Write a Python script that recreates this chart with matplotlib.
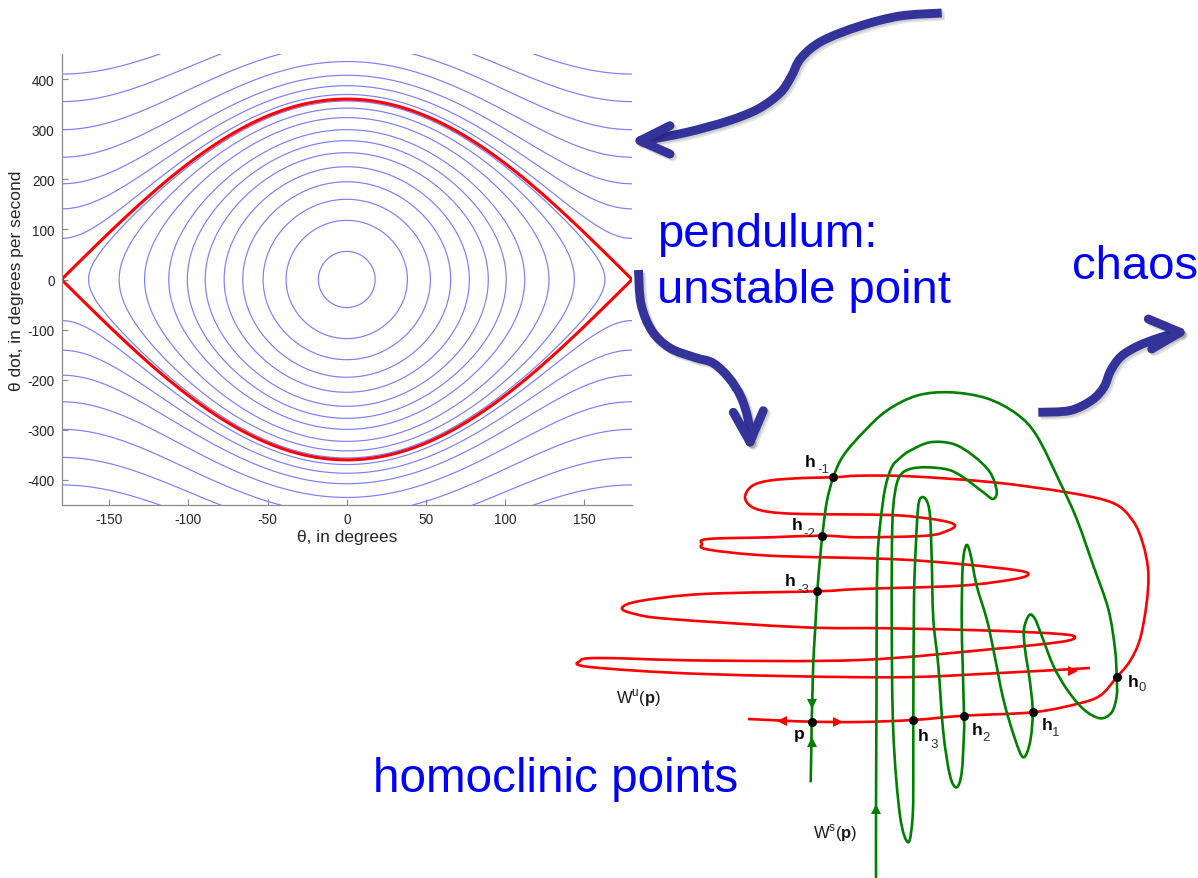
"""pendulum phase portrait + homoclinic tangle sketch, one slide-style canvas."""
import numpy as np
import matplotlib
matplotlib.use("Agg")
import matplotlib.pyplot as plt
import matplotlib.patheffects as pe
from matplotlib.path import Path
from matplotlib.patches import PathPatch

plt.rcParams["font.family"] = ["Liberation Sans", "DejaVu Sans"]
plt.rcParams["axes.unicode_minus"] = False
plt.rcParams["mathtext.fontset"] = "custom"
plt.rcParams["mathtext.rm"] = "Liberation Sans"
plt.rcParams["mathtext.bf"] = "Liberation Sans:bold"

W, H = 1198, 879

# ---- pendulum: speed (deg/s)
sep_peak = 360                                                # separatrix height at theta = 0
lib_v0 = [56, 118, 160, 195, 225, 253, 277, 299, 323, 342, 356]  # closed orbits, speed at theta = 0
rot_v180 = [82, 141, 191, 244, 299, 355, 410]                 # rotations, speed at theta = +-180
xticks = [-150, -100, -50, 0, 50, 100, 150]
yticks = [-400, -300, -200, -100, 0, 100, 200, 300, 400]

# ---- homoclinic tangle, traced in canvas pixels (x right, y down)
wu_curve = [(748, 720), (780, 721.5), (811.7, 722.7), (860, 723), (913.3, 721), (964, 716.7),
            (1032.7, 713.3), (1076.7, 705), (1100, 696.7), (1116.7, 678.3), (1130, 662),
            (1140, 640), (1146.5, 605), (1148.3, 573.3), (1143, 545), (1133, 522), (1113, 504),
            (1066.7, 493.3), (993, 483.3), (910, 477.3), (860, 476.7), (833.3, 478.3), (803, 479),
            (770, 481.5), (752, 487), (745, 498.3), (752, 508), (770, 513), (803.3, 515),
            (890, 516), (926.7, 519.3), (948, 523), (955, 526.7), (948, 531.5), (926.7, 536.7),
            (860, 538.3), (822.3, 536.7), (770, 538.3), (708, 540), (702, 545), (708, 550.5),
            (770, 556.7), (890, 560), (960, 565), (1015, 571), (1028.3, 575), (1015, 580),
            (960, 586.7), (860, 590), (817.3, 592.3), (703, 595), (640, 602), (622, 609),
            (635, 615), (670, 620), (803.3, 628.3), (890, 629.3), (993.3, 631.7), (1060, 635),
            (1075, 638.3), (1060, 643), (993.3, 650), (860, 661), (703, 661.5), (600, 659),
            (580, 662), (590, 668), (703.3, 675), (890, 678.3), (1000, 674), (1090, 669)]
ws_curve = [(876, 879), (876, 810), (876.5, 700), (876.7, 620), (877.5, 560), (880, 526.7),
            (885, 490), (891.7, 468.3), (900, 459), (910, 451.7), (930, 443.3), (953.3, 445),
            (973.3, 456.7), (990, 473.3), (996.7, 492), (993, 500), (983.3, 493.3), (963.3, 478.3),
            (948.3, 470.7), (926.7, 468.3), (910, 470), (900, 476.7), (895, 493.3), (892.3, 526.7),
            (891.7, 620), (893.3, 733.3), (900, 816.7), (908.3, 843.3), (912.7, 816.7),
            (913.3, 766.7), (913.3, 721), (914, 600), (916, 543), (918.3, 506.7), (921.7, 498.3),
            (926.7, 501.7), (930, 516.7), (931.7, 560), (933.3, 620), (938.3, 666.7),
            (943.3, 733.3), (950, 776.7), (956.7, 788.3), (961.7, 773.3), (964, 733.3),
            (964, 716.7), (962.7, 666.7), (961.7, 620), (962.7, 566.7), (966, 546.7), (970, 553.3),
            (976.7, 586.7), (986.7, 620), (993.3, 650), (1003.3, 700), (1015, 740),
            (1023.3, 758.3), (1030, 743.3), (1032.7, 713.3), (1030, 683.3), (1025, 650),
            (1024, 630), (1029.3, 616), (1035, 620), (1041.7, 636.7), (1053.3, 666.7),
            (1066.7, 690), (1083.3, 710), (1100, 719.3), (1111.7, 713.3), (1116.7, 696.7),
            (1116.7, 678.3), (1115, 650), (1108.3, 610), (1093.3, 566.7), (1076.7, 520),
            (1060, 483.3), (1036.7, 436.7), (1016.7, 415), (986.7, 399.3), (950, 393.3),
            (916.7, 396.7), (886.7, 411.7), (863.3, 433.3), (843.3, 456.7), (833.3, 478.3),
            (826.7, 503.3), (822.3, 536.7), (820, 560), (817.3, 592.3), (815, 633.3),
            (813.3, 663.3), (812.3, 700), (811.7, 722.7), (811.3, 750), (810.7, 783.3)]
hom_x = [811.7, 913.3, 964, 1032.7, 1116.7, 833.3, 822.3, 817.3]
hom_y = [722.7, 721, 716.7, 713.3, 678.3, 478.3, 536.7, 592.3]
# (marker, x, y) for the flow direction heads
wu_heads = [("<", 781.7, 721.7), (">", 838, 723), (">", 1073, 671.7)]
ws_heads = [("v", 812.3, 705), ("^", 811.7, 743), ("^", 876, 810)]
# (main, sub, x, y, sub_x, sub_y)
h_labels = [("h", "-1", 805, 467, 817.5, 473), ("h", "-2", 792, 530, 803.5, 537),
            ("h", "-3", 785, 586.5, 797, 593), ("h", "3", 918, 741, 930, 748),
            ("h", "2", 971.5, 735, 982, 741.5), ("h", "1", 1041.5, 730, 1052, 736.5),
            ("h", "0", 1128, 687, 1138.5, 691.5)]

# ---- big fat slide arrows: shaft points, tip, two barb ends
arrows = [
    ([(941.7, 14), (900, 17), (860, 27), (822, 42), (801, 59), (791, 78), (780, 94),
      (758, 110), (728, 122), (686.7, 133.3), (645, 141.5)],
     (640, 141.7), [(670, 126.7), (670, 155)]),
    ([(638.5, 271), (641, 305), (652, 332), (670, 349), (695, 358.5), (713, 364),
      (729, 379), (741, 398), (748, 420), (750, 438)],
     (750, 443), [(733.3, 413.3), (763.3, 411.7)]),
    ([(1038.3, 413.3), (1070, 411.5), (1092, 401), (1104, 388), (1110.5, 372),
      (1121, 357.5), (1138, 347), (1160, 338.5), (1176, 334.3)],
     (1180, 333.3), [(1148.3, 320), (1151.7, 350)]),
]

BLUE_TXT = "#0000ff"
NAVY = "#333399"


def smooth(pts):
    # Catmull-Rom through the traced points, handed to matplotlib as cubic Beziers
    p = np.asarray(pts, float)
    q = np.vstack([p[0], p, p[-1]])
    verts, codes = [p[0]], [Path.MOVETO]
    for i in range(1, len(q) - 2):
        a, b, c, d = q[i - 1], q[i], q[i + 1], q[i + 2]
        verts += [b + (c - a) / 6, c - (d - b) / 6, c]
        codes += [Path.CURVE4] * 3
    return Path(verts, codes)


fig = plt.figure(figsize=(W / 100, H / 100), dpi=100)

# pendulum phase portrait
ax = fig.add_axes([61.5 / W, 1 - 506 / H, (632 - 61.5) / W, (506 - 55) / H])
th = np.linspace(-200, 200, 801)
v = np.linspace(-480, 480, 961)
T, V = np.meshgrid(th, v)
w2 = (sep_peak / 2) ** 2
E = 0.5 * V ** 2 + w2 * (1 - np.cos(np.radians(T)))
levels = sorted([0.5 * a ** 2 for a in lib_v0] + [0.5 * b ** 2 + 2 * w2 for b in rot_v180])
ax.contour(T, V, E, levels=levels, colors="#7d7dff", linewidths=0.85)
ax.contour(T, V, E, levels=[2 * w2], colors="#ff0000", linewidths=2.2)
ax.set_xlim(-180, 180)
ax.set_ylim(-450, 450)
ax.set_xticks(xticks)
ax.set_yticks(yticks)
for s in ("top", "right"):
    ax.spines[s].set_visible(False)
for s in ("left", "bottom"):
    ax.spines[s].set_color("#8c8c8c")
    ax.spines[s].set_linewidth(0.9)
ax.tick_params(direction="in", length=4, width=0.8, color="#8c8c8c",
               labelsize=9.8, labelcolor="#262626", pad=5)
ax.set_xlabel("\u03b8, in degrees", fontsize=12.5, color="#262626")
ax.set_ylabel("\u03b8 dot, in degrees per second", fontsize=12.5, color="#262626")
ax.xaxis.set_label_coords(0.5, (506 - 530) / 451)
ax.yaxis.set_label_coords((24 - 61.5) / 570.5, 0.5)

# overlay in canvas pixels for the sketch, arrows and captions
ov = fig.add_axes([0, 0, 1, 1])
ov.set_xlim(0, W)
ov.set_ylim(H, 0)
ov.axis("off")

shadow = [pe.SimpleLineShadow(offset=(2.2, -2.2), shadow_color="k", alpha=0.1),
          pe.SimpleLineShadow(offset=(1.2, -1.2), shadow_color="k", alpha=0.1),
          pe.Normal()]
for shaft, tip, barbs in arrows:
    ov.add_patch(PathPatch(smooth(shaft), fill=False, ec=NAVY, lw=6.4,
                           capstyle="butt", path_effects=shadow))
    for b in barbs:
        ov.plot([b[0], tip[0]], [b[1], tip[1]], color=NAVY, lw=6.4,
                solid_capstyle="round", path_effects=shadow)

ov.add_patch(PathPatch(smooth(wu_curve), fill=False, ec="#ff0000", lw=1.9))
ov.add_patch(PathPatch(smooth(ws_curve), fill=False, ec="#008000", lw=1.9))
for m, x, y in wu_heads:
    ov.plot(x, y, marker=m, color="#ff0000", ms=7, mew=0)
for m, x, y in ws_heads:
    ov.plot(x, y, marker=m, color="#008000", ms=7, mew=0)
ov.plot(hom_x, hom_y, "o", color="k", ms=6.5, mew=0, zorder=5)

for main, sub, x, y, sx, sy in h_labels:
    ov.text(x, y, main, fontsize=12.5, fontweight="bold", va="baseline", ha="left")
    ov.text(sx, sy, sub, fontsize=9.5, color="#333333", va="baseline", ha="left")
ov.text(794, 739, "p", fontsize=12.5, fontweight="bold", va="baseline", ha="left")
ov.text(616, 703, r"W$^{\mathrm{u}}$($\mathbf{p}$)", fontsize=12, color="#1a1a1a",
        va="baseline", ha="left")
ov.text(813, 838, r"W$^{\mathrm{s}}$($\mathbf{p}$)", fontsize=12, color="#1a1a1a",
        va="baseline", ha="left")

ov.text(657, 247, "pendulum:", fontsize=34, color=BLUE_TXT, va="baseline", ha="left")
ov.text(657, 303, "unstable point", fontsize=34, color=BLUE_TXT, va="baseline", ha="left")
ov.text(1072, 279, "chaos", fontsize=34, color=BLUE_TXT, va="baseline", ha="left")
ov.text(373, 792, "homoclinic points", fontsize=34.3, color=BLUE_TXT, va="baseline", ha="left")

fig.savefig("out.png", dpi=100)
